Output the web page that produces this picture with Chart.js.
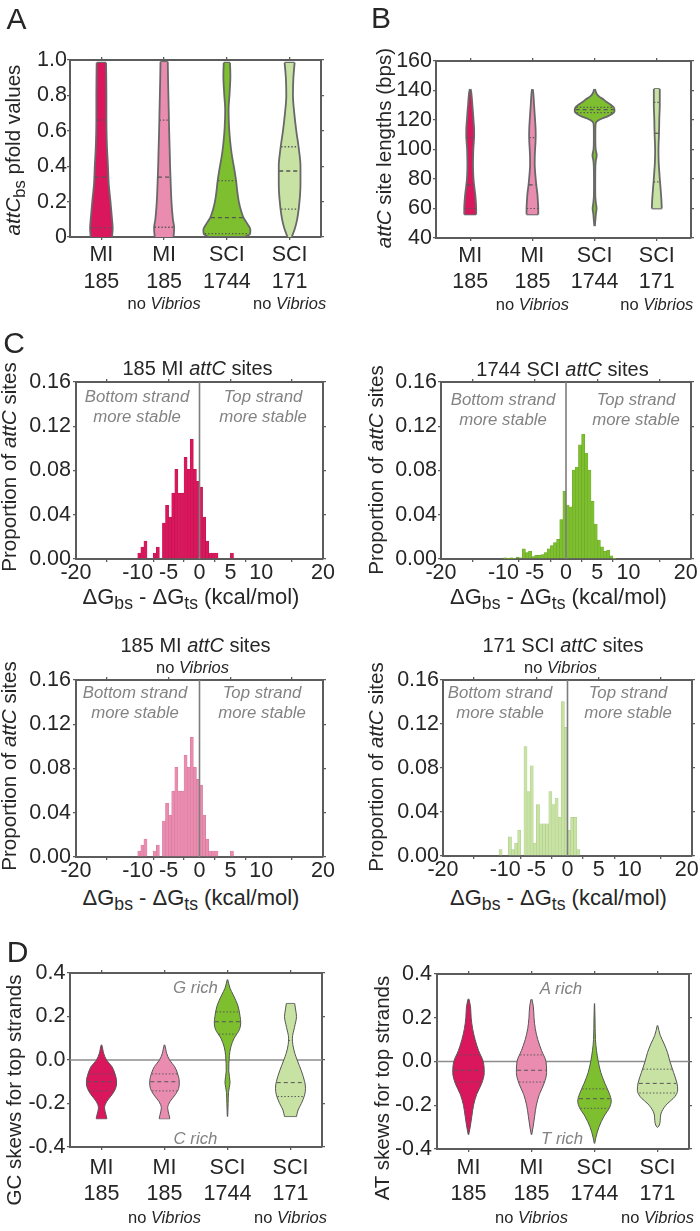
<!DOCTYPE html>
<html><head><meta charset="utf-8">
<script src="https://cdn.jsdelivr.net/npm/chart.js@4.4.1/dist/chart.umd.min.js"></script>
<style>
html,body{margin:0;padding:0;background:#fff;}
#page{position:relative;width:700px;height:1231px;overflow:hidden;font-family:'Liberation Sans',Arial,Helvetica,sans-serif;color:#262626;background:#fff;}
canvas{position:absolute;}
.t{position:absolute;white-space:nowrap;line-height:1;transform:translate(-50%,-50%);z-index:5;}
.r{transform:translate(-50%,-50%) rotate(-90deg);}
.ttl{font-size:20px;}
.yt{font-size:20.6px;}
.xt{font-size:22px;}
.ann{color:#838383;font-style:italic;font-size:16.8px;}
.nv{font-size:16.5px;}
.letter{font-size:30px;}
.sb{font-size:0.8em;position:relative;top:0.3em;}
</style></head><body><div id="page"></div>
<script>
// ================= DATA =================
const violinCategories = [['MI','185'],['MI','185'],['SCI','1744'],['SCI','171']];
const violinSubLabels = ['', 'no <i>Vibrios</i>', '', 'no <i>Vibrios</i>'];

// Panel A: attCbs pfold values. Outline points: [value, half-width in category units]
const pfoldMI185 = [[0.0,0.17],[0.05,0.18],[0.1,0.17],[0.2,0.145],[0.3,0.117],[0.4,0.105],[0.5,0.09],[0.6,0.082],[0.7,0.08],[0.8,0.08],[0.9,0.078],[0.985,0.075]];
const pfoldMI185noV = [[0.0,0.15],[0.05,0.16],[0.1,0.14],[0.2,0.117],[0.3,0.105],[0.4,0.095],[0.5,0.088],[0.6,0.08],[0.7,0.074],[0.8,0.068],[0.9,0.062],[0.99,0.058]];
const pfoldSCI1744 = [[0.004,0.3],[0.015,0.365],[0.04,0.375],[0.07,0.335],[0.11,0.265],[0.15,0.225],[0.2,0.19],[0.26,0.165],[0.32,0.146],[0.39,0.115],[0.45,0.085],[0.5,0.065],[0.55,0.05],[0.62,0.035],[0.72,0.027],[0.81,0.043],[0.91,0.056],[0.985,0.05]];
const pfoldSCI171 = [[0.0,0.035],[0.05,0.085],[0.1,0.12],[0.2,0.157],[0.3,0.173],[0.4,0.173],[0.5,0.146],[0.6,0.106],[0.7,0.074],[0.8,0.053],[0.9,0.06],[0.985,0.08]];
const pfoldQuartiles = [[0.053,0.338,0.66],[0.055,0.338,0.66],[0.019,0.11,0.319],[0.158,0.373,0.51]];
const pfoldTicks = [0,0.2,0.4,0.6,0.8,1];
const pfoldTickLabels = ['0','0.2','0.4','0.6','0.8','1.0'];

// Panel B: attC site lengths (bps)
const lengthMI185 = [[56,0.096],[60,0.096],[65,0.09],[70,0.08],[75,0.065],[80,0.053],[85,0.047],[90,0.045],[95,0.047],[100,0.05],[105,0.058],[110,0.064],[115,0.062],[120,0.053],[125,0.045],[130,0.035],[135,0.026],[139,0.016],[141,0.006]];
const lengthMI185noV = [[56,0.094],[60,0.094],[65,0.088],[70,0.08],[75,0.065],[80,0.053],[85,0.043],[90,0.037],[95,0.038],[100,0.043],[105,0.05],[110,0.053],[115,0.05],[120,0.043],[125,0.035],[130,0.027],[135,0.02],[139,0.012],[141,0.005]];
const lengthSCI1744 = [[48,0.004],[52,0.012],[56,0.02],[60,0.032],[64,0.02],[68,0.012],[75,0.01],[85,0.011],[92,0.018],[96,0.034],[100,0.018],[106,0.012],[112,0.012],[116,0.014],[118,0.02],[119.5,0.05],[121,0.12],[122.5,0.21],[124,0.28],[126,0.32],[128,0.315],[130,0.27],[132,0.2],[134,0.14],[136,0.07],[138,0.03],[141,0.006]];
const lengthSCI171 = [[60,0.08],[65,0.075],[70,0.067],[75,0.058],[80,0.048],[85,0.04],[90,0.032],[95,0.028],[100,0.027],[105,0.03],[110,0.035],[115,0.038],[120,0.04],[125,0.044],[130,0.048],[135,0.048],[141,0.048]];
const lengthQuartiles = [[60,76,108],[60,76,108],[125,127,128.5],[78,111,132]];
const lengthTicks = [40,60,80,100,120,140,160];
const lengthTickLabels = ['40','60','80','100','120','140','160'];

// Panel C: histograms of dGbs - dGts (bin start, proportion of sites), bin width 0.5 kcal/mol
const dgBinWidth = 0.5;
const dgBinsMI185 = [-10,-9.5,-9,-8.5,-8,-7.5,-7,-6.5,-6,-5.5,-5,-4.5,-4,-3.5,-3,-2.5,-2,-1.5,-1,-0.5,0,0.5,1,1.5,2,2.5,3,3.5,4,4.5,5];
const dgPropMI185 = [0.0054,0.0108,0.0162,0,0,0.0054,0.0108,0,0.0324,0.0486,0.0378,0.0595,0.0811,0.0595,0.0595,0.0919,0.0811,0.1081,0.0811,0.0703,0.0649,0.0378,0.0162,0.0054,0.0054,0.0054,0,0,0,0,0.0054];
const dgBinsMI185noV = [-10,-9.5,-9,-8.5,-8,-7.5,-7,-6.5,-6,-5.5,-5,-4.5,-4,-3.5,-3,-2.5,-2,-1.5,-1,-0.5,0,0.5,1,1.5,2,2.5,3,3.5,4,4.5,5];
const dgPropMI185noV = [0.0054,0.0108,0.0162,0,0,0.0054,0.0108,0,0.0324,0.0486,0.0378,0.0595,0.0811,0.0595,0.0595,0.0919,0.0811,0.1081,0.0811,0.0703,0.0649,0.0378,0.0162,0.0054,0.0054,0.0054,0,0,0,0,0.0054];
const dgBinsSCI1744 = [-10,-9.5,-9,-8.5,-8,-7.5,-7,-6.5,-6,-5.5,-5,-4.5,-4,-3.5,-3,-2.5,-2,-1.5,-1,-0.5,0,0.5,1,1.5,2,2.5,3,3.5,4,4.5,5,5.5,6,6.5,7,7.5];
const dgPropSCI1744 = [0.001,0.0006,0.001,0.0006,0.0017,0.0011,0.0092,0.0057,0.0069,0.0023,0.0034,0.0034,0.004,0.0057,0.0092,0.0121,0.0149,0.0178,0.0356,0.0614,0.0488,0.0471,0.0803,0.0832,0.1032,0.113,0.0958,0.0803,0.0522,0.0316,0.0172,0.0109,0.0069,0.008,0.0029,0.0006];
const dgBinsSCI171 = [-11,-10.5,-10,-9.5,-9,-8.5,-8,-7.5,-7,-6.5,-6,-5.5,-5,-4.5,-4,-3.5,-3,-2.5,-2,-1.5,-1,-0.5,0,0.5,1,1.5];
const dgPropSCI171 = [0.0058,0,0,0.0175,0.0058,0.0117,0.0234,0,0.0994,0.0585,0.0819,0.0117,0.0468,0.0292,0.0292,0.0292,0.0585,0.0468,0.0526,0.0351,0.1404,0.117,0.0234,0.0351,0.0351,0.0058];
const dgXTicks = [-20,-10,-5,0,5,10,20];
const dgXTickLabels = ['-20','-10','-5','0','5','10','20'];
const dgXTopTicks = [-20,-10,0,10,20];
const dgYTicks = [0,0.04,0.08,0.12,0.16];
const dgYTickLabels = ['0.00','0.04','0.08','0.12','0.16'];

// Panel D: GC and AT skews for top strands
const gcMI185 = [[-0.27,0.085],[-0.25,0.07],[-0.22,0.048],[-0.19,0.085],[-0.16,0.165],[-0.13,0.225],[-0.1,0.24],[-0.06,0.21],[-0.03,0.165],[0.0,0.08],[0.03,0.035],[0.05,0.02],[0.07,0.004]];
const gcMI185noV = [[-0.27,0.085],[-0.25,0.07],[-0.22,0.05],[-0.19,0.09],[-0.16,0.17],[-0.13,0.225],[-0.1,0.235],[-0.06,0.205],[-0.03,0.16],[0.0,0.08],[0.03,0.035],[0.05,0.02],[0.07,0.004]];
const gcSCI1744 = [[-0.26,0.003],[-0.2,0.01],[-0.15,0.016],[-0.1,0.04],[-0.05,0.02],[0.02,0.03],[0.06,0.053],[0.1,0.105],[0.14,0.19],[0.17,0.21],[0.2,0.2],[0.25,0.165],[0.3,0.09],[0.33,0.04],[0.37,0.004]];
const gcSCI171 = [[-0.26,0.095],[-0.23,0.12],[-0.2,0.172],[-0.16,0.225],[-0.13,0.238],[-0.1,0.225],[-0.05,0.172],[0.0,0.106],[0.03,0.069],[0.07,0.037],[0.1,0.03],[0.15,0.063],[0.2,0.095],[0.23,0.082],[0.26,0.066]];
const gcQuartiles = [[-0.142,-0.1,-0.064],[-0.142,-0.1,-0.064],[0.119,0.176,0.221],[-0.168,-0.104,0.089]];
const atMI185 = [[-0.335,0.003],[-0.3,0.027],[-0.25,0.053],[-0.2,0.08],[-0.15,0.13],[-0.1,0.21],[-0.05,0.25],[0.0,0.233],[0.05,0.16],[0.1,0.105],[0.15,0.065],[0.2,0.042],[0.25,0.032],[0.285,0.008]];
const atMI185noV = [[-0.335,0.003],[-0.3,0.025],[-0.25,0.05],[-0.2,0.077],[-0.15,0.125],[-0.1,0.2],[-0.05,0.24],[0.0,0.23],[0.05,0.16],[0.1,0.1],[0.15,0.06],[0.2,0.04],[0.25,0.03],[0.285,0.007]];
const atSCI1744 = [[-0.375,0.003],[-0.35,0.02],[-0.3,0.07],[-0.25,0.152],[-0.21,0.24],[-0.18,0.266],[-0.15,0.24],[-0.1,0.165],[-0.05,0.1],[0.0,0.06],[0.05,0.032],[0.1,0.015],[0.2,0.008],[0.265,0.002]];
const atSCI171 = [[-0.3,0.008],[-0.29,0.03],[-0.27,0.043],[-0.24,0.053],[-0.2,0.133],[-0.16,0.277],[-0.13,0.32],[-0.1,0.31],[-0.05,0.255],[0.0,0.197],[0.04,0.16],[0.08,0.106],[0.12,0.043],[0.165,0.004]];
const atQuartiles = [[-0.094,-0.04,0.03],[-0.094,-0.04,0.03],[-0.214,-0.17,-0.125],[-0.144,-0.1,-0.035]];
const skewTicks = [-0.4,-0.2,0,0.2,0.4];
const skewTickLabels = ['-0.4','-0.2','0.0','0.2','0.4'];

// ================= STYLE =================
const FONT = "'Liberation Sans', Arial, Helvetica, sans-serif";
const INK = '#262626';
const FRAME = '#5c5c5c';
const TICK_SIZE = 21.5;
const fillColors = ['#DA175D','#EA8CAF','#7EBF2F','#C7E2A3'];
const barEdges = ['#B8134F','#D47699','#67A522','#AACB88'];

const page = document.getElementById('page');

function mkCanvas(r){
  const c = document.createElement('canvas');
  c.width = r.w; c.height = r.h;
  c.style.left = r.x+'px'; c.style.top = r.y+'px';
  c.style.width = r.w+'px'; c.style.height = r.h+'px';
  page.appendChild(c);
  return c;
}
function txt(x,y,html,cls){
  const d = document.createElement('div');
  d.className = 't '+(cls||'');
  d.style.left = x+'px'; d.style.top = y+'px';
  d.innerHTML = html;
  page.appendChild(d);
}

function scalesFor(cv, plot, xs, ys){
  const grid = {display:true, drawOnChartArea:false, drawTicks:true, tickLength:3, color:FRAME, lineWidth:1.3};
  const border = {display:true, color:FRAME, width:2};
  const tk = o => ({autoSkip:false, maxRotation:0, minRotation:0, padding:o.pad, color:INK,
      font:{family:FONT, size:TICK_SIZE, lineHeight:o.lh||1.22}, callback:(v,i)=>o.labels[i]});
  return {
    x:{type:'linear', position:'bottom', offset:false, min:xs.min, max:xs.max, grid, border, ticks:tk(xs),
      afterBuildTicks:s=>{s.ticks = xs.ticks.map(v=>({value:v}));},
      afterFit:s=>{s.height = cv.y+cv.h-plot.B; s.paddingLeft=0; s.paddingRight=0;}},
    x2:{type:'linear', position:'top', offset:false, min:xs.min, max:xs.max, grid, border, ticks:{display:false},
      afterBuildTicks:s=>{s.ticks = xs.top.map(v=>({value:v}));},
      afterFit:s=>{s.height = plot.T-cv.y; s.paddingLeft=0; s.paddingRight=0;}},
    y:{type:'linear', position:'left', offset:false, min:ys.min, max:ys.max, grid, border, ticks:tk(ys),
      afterBuildTicks:s=>{s.ticks = ys.ticks.map(v=>({value:v}));},
      afterFit:s=>{s.width = plot.L-cv.x; s.paddingTop=0; s.paddingBottom=0;}},
    y2:{type:'linear', position:'right', offset:false, min:ys.min, max:ys.max, grid, border, ticks:{display:false},
      afterBuildTicks:s=>{s.ticks = ys.ticks.map(v=>({value:v}));},
      afterFit:s=>{s.width = cv.x+cv.w-plot.R; s.paddingTop=0; s.paddingBottom=0;}}
  };
}

function baseOptions(scales, extra){
  return Object.assign({responsive:false, animation:false, events:[], layout:{padding:0},
    plugins:{legend:{display:false}, tooltip:{enabled:false}, title:{display:false}}, scales}, extra||{});
}

function hwAt(ol, v){
  for (let i=0;i<ol.length-1;i++){
    const [y0,w0]=ol[i], [y1,w1]=ol[i+1];
    if (v>=y0 && v<=y1) return w0+(w1-w0)*(v-y0)/(y1-y0);
  }
  return 0;
}

function violinChart(cvRect, plot, xs, ys, outlines, quartiles, st){
  const cv = mkCanvas(cvRect);
  const ds = [];
  if (st.zeroLine) ds.push({data:[{x:xs.min,y:0},{x:xs.max,y:0}], borderColor:'#8c8c8c', borderWidth:1.6, pointRadius:0, fill:false, order:5});
  outlines.forEach((ol,k)=>{
    const c = k+1;
    const li = ds.length;
    ds.push({data:ol.map(([v,w])=>({x:c-w,y:v})), borderColor:st.edge, borderWidth:st.lw, pointRadius:0, fill:false, cubicInterpolationMode:'monotone', order:2});
    ds.push({data:ol.map(([v,w])=>({x:c+w,y:v})), borderColor:st.edge, borderWidth:st.lw, pointRadius:0, backgroundColor:fillColors[k], fill:li, cubicInterpolationMode:'monotone', order:2});
    [ol[0], ol[ol.length-1]].forEach(([v,w])=>{
      if (w>0.006) ds.push({data:[{x:c-w,y:v},{x:c+w,y:v}], borderColor:st.edge, borderWidth:st.lw, pointRadius:0, fill:false, order:2});
    });
    quartiles[k].forEach((q,j)=>{
      const w = hwAt(ol,q)*0.96;
      ds.push({data:[{x:c-w,y:q},{x:c+w,y:q}], borderColor:st.qcol, borderWidth:st.qlw, borderDash: j===1?[4,3]:[1.4,2], pointRadius:0, fill:false, order:1});
    });
  });
  new Chart(cv, {type:'line', data:{datasets:ds}, options:baseOptions(scalesFor(cvRect, plot, xs, ys), {indexAxis:'y'})});
  violinCategories.forEach((_,k)=>{
    if (!violinSubLabels[k]) return;
    const px = plot.L + (k+1-xs.min)/(xs.max-xs.min)*(plot.R-plot.L);
    txt(px, st.subY, violinSubLabels[k], 'nv');
  });
}

function histChart(cvRect, plot, bins, props, k){
  const cv = mkCanvas(cvRect);
  // right-column panels: keep the last tick label ("20") inside the page edge
  const xl = dgXTickLabels.map((l,i)=> (cvRect.tightRight && i===dgXTickLabels.length-1) ? l+'\u2002' : l);
  const xs = {min:-20, max:20, ticks:dgXTicks, labels:xl, top:dgXTopTicks, pad:0.5, lh:1.0};
  const ys = {min:0, max:0.16, ticks:dgYTicks, labels:dgYTickLabels, pad:cvRect.pady};
  const ds = [
    {type:'line', data:[{x:0,y:0},{x:0,y:0.16}], borderColor:'#7d7d7d', borderWidth:1.6, pointRadius:0, fill:false, order:0},
    {type:'bar', data:bins.map((b,i)=>({x:b+dgBinWidth/2, y:props[i]})), backgroundColor:fillColors[k], borderColor:barEdges[k], borderWidth:0.5, barPercentage:1, categoryPercentage:1, order:1}
  ];
  new Chart(cv, {type:'bar', data:{datasets:ds}, options:baseOptions(scalesFor(cvRect, plot, xs, ys))});
}

// ================= PANEL A =================
{
  const plot = {L:70, T:60, R:321, B:237};
  const cvr = {x:0, y:40, w:345, h:272};
  violinChart(cvr, plot,
    {min:0.5, max:4.5, ticks:[1,2,3,4], labels:violinCategories, top:[1,2,3,4], pad:2.4},
    {min:0, max:1, ticks:pfoldTicks, labels:pfoldTickLabels, pad:0},
    [pfoldMI185, pfoldMI185noV, pfoldSCI1744, pfoldSCI171], pfoldQuartiles,
    {edge:'#686868', lw:1.8, qcol:'#555', qlw:1.3, subY:303});
  txt(13, 150, '<i>attC</i><span class="sb">bs</span> pfold values', 'r yt');
  txt(16.5, 19, 'A', 'letter');
}
// ================= PANEL B =================
{
  const plot = {L:436, T:61, R:691, B:238};
  const cvr = {x:350, y:40, w:350, h:272};
  violinChart(cvr, plot,
    {min:0.45, max:4.55, ticks:[1,2,3,4], labels:violinCategories, top:[1,2,3,4], pad:1.6},
    {min:40, max:160, ticks:lengthTicks, labels:lengthTickLabels, pad:1},
    [lengthMI185, lengthMI185noV, lengthSCI1744, lengthSCI171], lengthQuartiles,
    {edge:'#686868', lw:1.8, qcol:'#555', qlw:1.2, subY:304});
  txt(383.5, 147.5, '<i>attC</i> site lengths (bps)', 'r yt');
  txt(381, 18, 'B', 'letter');
}
// ================= PANEL C =================
const dgTitle = 'ΔG<span class="sb">bs</span> - ΔG<span class="sb">ts</span> (kcal/mol)';
{
  const plot = {L:76, T:382, R:323, B:559};
  histChart({x:0, y:360, w:345, h:250, pady:2}, plot, dgBinsMI185, dgPropMI185, 0);
  txt(197.5, 367.5, '185 MI <i>attC</i> sites', 'ttl');
  txt(9, 467, 'Proportion of <i>attC</i> sites', 'r yt');
  txt(191, 597, dgTitle, 'xt');
  txt(137, 397, 'Bottom strand', 'ann'); txt(137, 417, 'more stable', 'ann');
  txt(263, 397, 'Top strand', 'ann'); txt(263, 417, 'more stable', 'ann');
  txt(14, 342.5, 'C', 'letter');
}
{
  const plot = {L:441, T:382, R:691, B:559};
  histChart({x:350, y:360, w:350, h:250, pady:1, tightRight:true}, plot, dgBinsSCI1744, dgPropSCI1744, 2);
  txt(562.5, 369, '1744 SCI <i>attC</i> sites', 'ttl');
  txt(376, 470, 'Proportion of <i>attC</i> sites', 'r yt');
  txt(558.5, 597, dgTitle, 'xt');
  txt(503, 400, 'Bottom strand', 'ann'); txt(503, 420, 'more stable', 'ann');
  txt(636, 400, 'Top strand', 'ann'); txt(636, 420, 'more stable', 'ann');
}
{
  const plot = {L:76, T:680, R:323, B:857};
  histChart({x:0, y:630, w:345, h:255, pady:2}, plot, dgBinsMI185noV, dgPropMI185noV, 1);
  txt(195.5, 645, '185 MI <i>attC</i> sites', 'ttl');
  txt(192.5, 667, 'no <i>Vibrios</i>', 'nv');
  txt(9, 766, 'Proportion of <i>attC</i> sites', 'r yt');
  txt(191, 897.5, dgTitle, 'xt');
  txt(135, 693, 'Bottom strand', 'ann'); txt(135, 713, 'more stable', 'ann');
  txt(262, 693, 'Top strand', 'ann'); txt(262, 713, 'more stable', 'ann');
}
{
  const plot = {L:443, T:680, R:692, B:856};
  histChart({x:350, y:630, w:350, h:255, pady:1, tightRight:true}, plot, dgBinsSCI171, dgPropSCI171, 3);
  txt(563, 645, '171 SCI <i>attC</i> sites', 'ttl');
  txt(560.5, 667, 'no <i>Vibrios</i>', 'nv');
  txt(376, 767, 'Proportion of <i>attC</i> sites', 'r yt');
  txt(558.5, 897.5, dgTitle, 'xt');
  txt(500, 693, 'Bottom strand', 'ann'); txt(500, 713, 'more stable', 'ann');
  txt(628, 693, 'Top strand', 'ann'); txt(628, 713, 'more stable', 'ann');
}
// ================= PANEL D =================
{
  const plot = {L:70, T:973, R:322, B:1147};
  violinChart({x:0, y:950, w:345, h:281}, plot,
    {min:0.5, max:4.5, ticks:[1,2,3,4], labels:violinCategories, top:[1,2,3,4], pad:5},
    {min:-0.4, max:0.4, ticks:skewTicks, labels:skewTickLabels, pad:1.5},
    [gcMI185, gcMI185noV, gcSCI1744, gcSCI171], gcQuartiles,
    {edge:'#555', lw:1, qcol:'#555', qlw:1, subY:1217, zeroLine:true});
  txt(14, 1090, 'GC skews for top strands', 'r yt');
  txt(195.5, 988, 'G rich', 'ann');
  txt(195.5, 1139, 'C rich', 'ann');
  txt(17.5, 952, 'D', 'letter');
}
{
  const plot = {L:437, T:974, R:689, B:1149};
  violinChart({x:350, y:950, w:350, h:281}, plot,
    {min:0.5, max:4.5, ticks:[1,2,3,4], labels:violinCategories, top:[1,2,3,4], pad:2.6},
    {min:-0.4, max:0.4, ticks:skewTicks, labels:skewTickLabels, pad:2},
    [atMI185, atMI185noV, atSCI1744, atSCI171], atQuartiles,
    {edge:'#555', lw:1, qcol:'#555', qlw:1, subY:1217, zeroLine:true});
  txt(382, 1088, 'AT skews for top strands', 'r yt');
  txt(561, 989, 'A rich', 'ann');
  txt(562, 1139, 'T rich', 'ann');
}
</script>
</body></html>
